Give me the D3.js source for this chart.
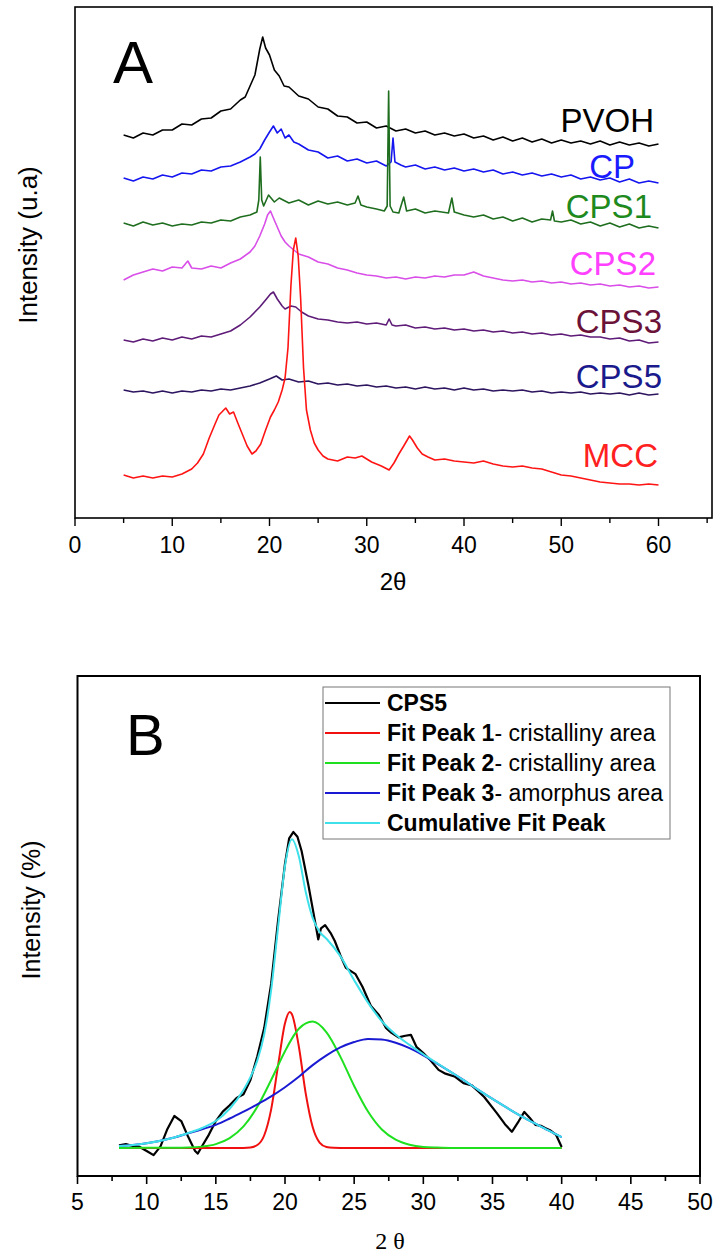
<html>
<script src="https://d3js.org/d3.v7.min.js"></script>
<body style="margin:0;background:#fff">
<svg id="chart"></svg>
<script>
// ---- panel A : XRD patterns, [2theta, intensity a.u.] ----
const pvoh = [[5,383],[6,380],[7,385],[8,383],[9,388],[10,388],[11,394],[12,393],[13,399],[14,400],[15,407],[16,409],[17,418],[17.5,421],[18,432],[18.5,443],[19,469],[19.3,481],[19.6,470],[20,463],[20.5,448],[21,442],[21.5,432],[22,431],[23,422],[24,419],[25,411],[26,409],[27,402],[28,401],[29,395],[30,396],[31,390],[32,392],[33,387],[34,389],[35,385],[36,387],[37,383],[38,385],[39,382],[40,384],[41,380],[42,382],[43,378],[44,381],[45,377],[46,380],[47,376],[48,379],[49,375],[50,378],[51,375],[52,377],[53,374],[54,377],[55,373],[56,376],[57,373],[58,375],[59,372],[60,374]];
const cp = [[5,340],[6,337],[7,341],[8,339],[9,343],[10,341],[11,345],[12,344],[13,348],[14,347],[15,351],[16,352],[17,356],[18,361],[18.5,364],[19,369],[19.5,378],[20,386],[20.4,392],[20.8,385],[21.2,389],[21.6,380],[22,383],[22.5,376],[23,374],[24,368],[25,366],[26,360],[27,362],[28,357],[29,359],[30,355],[31,357],[32,352],[32.5,356],[32.7,380],[32.9,356],[33.5,353],[34,351],[35,353],[36,349],[37,351],[38,348],[39,350],[40,347],[41,349],[42,346],[43,348],[44,344],[45,346],[46,343],[47,345],[48,342],[49,344],[50,341],[51,343],[52,339],[53,341],[54,338],[55,340],[56,336],[57,339],[58,335],[59,337],[60,335]];
const cps1 = [[5,295],[6,292],[7,296],[8,293],[9,295],[10,292],[11,294],[12,293],[13,296],[14,295],[15,298],[16,297],[17,301],[18,303],[18.7,306],[18.9,318],[19.05,361],[19.2,318],[19.4,312],[19.9,323],[20.5,316],[21,320],[22,315],[23,318],[24,313],[25,317],[26,314],[27,316],[28,313],[28.8,315],[29.1,322],[29.4,313],[30,311],[31,309],[31.8,307],[32.1,312],[32.25,427],[32.4,312],[32.7,306],[33.3,305],[33.8,321],[34.1,307],[35,309],[36,305],[37,307],[38.4,305],[38.75,320],[39,306],[40,303],[41,301],[42,303],[43,299],[44,301],[45,297],[46,300],[47,296],[48,299],[48.9,298],[49.1,307],[49.3,297],[50,296],[51,298],[52,294],[53,296],[54,292],[55,295],[56,291],[57,294],[58,290],[59,292],[60,290]];
const cps2 = [[5,238],[6,243],[7,246],[8,249],[9,247],[10,251],[11,250],[11.6,257],[12,250],[13,249],[14,252],[15,250],[16,255],[17,259],[18,266],[18.5,272],[19,282],[19.5,294],[19.8,303],[20.1,307],[20.4,300],[20.8,291],[21.2,282],[21.6,276],[22,272],[23,264],[24,261],[25,256],[26,254],[27,250],[28,248],[29,245],[30,243],[31,242],[32,240],[33,241],[34,239],[35,241],[36,240],[37,242],[38,241],[39,243],[40,243],[41,246],[42,242],[43,240],[44,238],[45,237],[46,238],[47,236],[48,237],[49,235],[50,236],[51,234],[52,235],[53,233],[54,234],[55,232],[56,233],[57,231],[58,232],[59,230],[60,231]];
const cps3 = [[5,178],[6,176],[7,179],[8,177],[9,180],[10,178],[11,181],[12,179],[13,182],[14,181],[15,184],[16,187],[17,193],[18,201],[19,211],[19.6,218],[20.1,224],[20.4,226],[20.8,219],[21.3,212],[21.6,209],[22.2,212],[22.7,211],[23.3,206],[24,202],[25,199],[26,198],[27,196],[28,195],[29,196],[30,194],[31,195],[32,193],[32.3,199],[32.6,193],[33,192],[34,193],[35,190],[36,191],[37,189],[38,190],[39,188],[40,189],[41,187],[42,188],[43,186],[44,187],[45,185],[46,186],[47,184],[48,185],[49,183],[50,184],[51,182],[52,183],[53,181],[54,181],[55,179],[56,180],[57,177],[58,178],[59,175],[60,176]];
const cps5 = [[5,128],[6,126],[7,127],[8,125],[9,127],[10,125],[11,127],[12,126],[13,128],[14,127],[15,129],[16,128],[17,130],[18,132],[19,135],[20,139],[20.7,142],[21.3,138],[22,139],[23,136],[24,137],[25,134],[26,135],[27,133],[28,134],[29,132],[30,133],[31,131],[32,132],[33,130],[34,131],[35,129],[36,131],[37,129],[38,130],[39,128],[40,130],[41,128],[42,129],[43,127],[44,128],[45,127],[46,128],[47,126],[48,127],[49,125],[50,126],[51,125],[52,126],[53,124],[54,125],[55,124],[56,125],[57,123],[58,125],[59,123],[60,124]];
const mcc = [[5,43],[6,40],[7,42],[8,40],[9,42],[10,41],[11,44],[12,49],[12.6,55],[13.2,64],[13.8,80],[14.4,94],[14.8,103],[15.2,107],[15.5,110],[15.9,104],[16.3,106],[16.7,96],[17.2,84],[17.7,72],[18.2,64],[18.6,67],[19.1,74],[19.6,88],[20.1,101],[20.5,108],[20.9,116],[21.3,128],[21.6,140],[21.9,170],[22.2,232],[22.45,268],[22.7,280],[22.95,262],[23.2,220],[23.5,150],[23.8,108],[24.2,88],[24.6,75],[25,68],[25.5,62],[26,59],[27,57],[28,61],[28.8,60],[29.5,62],[30.5,56],[31.5,52],[32.3,48],[32.8,55],[33.3,64],[33.8,72],[34.4,82],[34.7,78],[35.2,70],[35.7,64],[36.3,61],[37,58],[38,59],[39,57],[40,56],[41,55],[42,57],[43,54],[44,52],[45,51],[46,52],[47,50],[48,49],[49,46],[50,43],[51,42],[52,40],[53,38],[54,36],[55,35],[56,34],[57,34],[58,33],[59,34],[60,33]];

const namesA = ["PVOH", "CP", "CPS1", "CPS2", "CPS3", "CPS5", "MCC"];
const ticksA = [0, 10, 20, 30, 40, 50, 60];

// ---- panel B : CPS5 deconvolution, [2theta, intensity %] ----
const cps5Raw = [[8,0.8],[8.5,1.2],[9,0.6],[9.5,0.3],[10,-1],[10.5,-2.3],[11,0.5],[11.5,6],[12,10.1],[12.5,8.5],[13,3.5],[13.5,-1],[13.7,-1.8],[14,0.5],[14.5,4.2],[15,8.5],[15.5,11.5],[16,13.5],[16.5,15.8],[17,17],[17.5,21.5],[18,29],[18.5,38],[19,52],[19.5,72],[20,90],[20.3,98],[20.6,100],[20.9,98.5],[21.2,94],[21.7,83],[22.2,71],[22.4,66],[22.6,69.5],[22.9,70.5],[23.3,68],[23.6,65.5],[24,61],[24.4,57],[25.1,55],[25.6,51],[26.2,45],[26.8,42],[27.3,38],[27.7,36.4],[28.2,35],[28.7,35.5],[29.1,35.8],[29.5,32],[30,30],[30.5,27.8],[31.1,24.7],[31.6,23.5],[32.3,22.5],[32.9,20.5],[33.5,19.8],[34,17.8],[34.4,16.1],[35.3,11.1],[35.9,7.5],[36.4,5.1],[36.9,8.5],[37.3,11.4],[37.7,9.5],[38.1,7.3],[38.5,7],[38.8,6.3],[39.2,5.5],[39.6,4.1],[40,0.3]];
const fitPeak1 = [[8,0],[17,0],[17.5,0.15],[18,0.9],[18.5,4],[19,12.2],[19.5,26.1],[20,39.5],[20.35,43],[20.5,42.3],[21,32.1],[21.5,17.2],[22,6.6],[22.5,1.7],[23,0.3],[23.5,0.05],[24,0],[40,0]];
const fitPeak2 = [[8,0],[12,0.03],[13,0.1],[14,0.4],[15,1.2],[16,3.1],[17,6.8],[18,13],[19,21.5],[20,30.6],[20.5,34.6],[21,37.7],[22,40],[23,36.6],[24,28.9],[25,19.6],[26,11.5],[27,5.8],[28,2.6],[29,1],[30,0.3],[31,0.1],[32,0],[40,0]];
const fitPeak3 = [[8,0.6],[10,1.5],[12,3.3],[13,4.6],[14,5.9],[15,7.3],[16,9.3],[17,11.5],[18,13.8],[19,16.3],[20,19.2],[21,22.5],[22,26.2],[23,29.3],[24,31.8],[25,33.5],[26,34.5],[27,34.3],[28,33.3],[29,31.6],[30,29.3],[31,26.7],[32,24],[33,21.2],[34,18.3],[35,15.5],[36,12.8],[37,10.2],[38,7.9],[39,5.6],[40,3.4]];
const fitCumulative = [[8,0.6],[10,1.5],[12,3.3],[13,4.7],[14,6.3],[15,8.5],[16,12.4],[17,18.3],[17.5,22.4],[18,27.7],[18.5,36],[19,50],[19.5,69.9],[20,89.3],[20.5,97.7],[21,92.3],[21.5,81],[22,72.8],[22.5,68.4],[23,66.2],[24,60.7],[25,53.1],[26,46],[27,40.1],[28,35.9],[29,32.6],[30,29.6],[31,26.8],[32,24],[33,21.2],[34,18.3],[35,15.5],[36,12.8],[37,10.2],[38,7.9],[39,5.6],[40,3.4]];

const ticksB = [5, 10, 15, 20, 25, 30, 35, 40, 45, 50];
const legendBold = ["CPS5", "Fit Peak 1", "Fit Peak 2", "Fit Peak 3", "Cumulative Fit Peak"];
const legendRest = ["", "- cristalliny area", "- cristalliny area", "- amorphus area", ""];

const FONT = "'Liberation Sans', Arial, sans-serif";
const W = 713, H = 1256;
const svg = d3.select("#chart").attr("width", W).attr("height", H)
    .style("font-family", FONT);
svg.append("rect").attr("width", W).attr("height", H).attr("fill", "#fff");

// ================= panel A =================
const xA = d3.scaleLinear().domain([0, 65.5]).range([75, 712]);
const yA = d3.scaleLinear().domain([0, 511]).range([518, 7]);
const lineA = d3.line().x(d => xA(d[0])).y(d => yA(d[1]));

const seriesA = [pvoh, cp, cps1, cps2, cps3, cps5, mcc];
const lineColA = ["#000000", "#1515f0", "#1f6e1f", "#d94ee8", "#5e1b78", "#2e1560", "#ff1414"];
const labColA = ["#000000", "#1a1aff", "#1e8a1e", "#ff40ff", "#6b1238", "#1a1a8c", "#ff2020"];
// label placement (layout)
const labRight = [654, 635, 652, 656, 662, 662, 658];
const labBase = [132, 178, 218, 275, 333, 388, 467];

seriesA.forEach((s, i) => {
    svg.append("path").datum(s)
        .attr("d", lineA)
        .attr("fill", "none")
        .attr("stroke", lineColA[i])
        .attr("stroke-width", 1.6)
        .attr("stroke-linejoin", "round");
    svg.append("text")
        .attr("x", labRight[i]).attr("y", labBase[i])
        .attr("text-anchor", "end")
        .attr("font-size", 33)
        .attr("fill", labColA[i])
        .text(namesA[i]);
});

svg.append("rect").attr("x", 75).attr("y", 7).attr("width", 637).attr("height", 511)
    .attr("fill", "none").attr("stroke", "#000").attr("stroke-width", 1.6);

// ticks
d3.range(0, 66, 5).forEach(v => {
    const major = v % 10 === 0;
    svg.append("line")
        .attr("x1", xA(v)).attr("x2", xA(v))
        .attr("y1", 518).attr("y2", 518 + (major ? 8 : 5))
        .attr("stroke", "#000").attr("stroke-width", 1.4);
});
ticksA.forEach(v => {
    svg.append("text").attr("x", xA(v)).attr("y", 553)
        .attr("text-anchor", "middle").attr("font-size", 23).text(v);
});
svg.append("text").attr("x", 393).attr("y", 590)
    .attr("text-anchor", "middle").attr("font-size", 24).text("2θ");
svg.append("text")
    .attr("transform", "translate(37,245) rotate(-90)")
    .attr("text-anchor", "middle").attr("font-size", 26)
    .text("Intensity (u.a)");
svg.append("text").attr("x", 113).attr("y", 83).attr("font-size", 60).text("A");

// ================= panel B =================
const xB = d3.scaleLinear().domain([5, 50]).range([77.5, 700]);
const yB = d3.scaleLinear().domain([-8.9, 149.4]).range([1176, 676]);
const rawLine = d3.line().x(d => xB(d[0])).y(d => yB(d[1]));
const fitLine = d3.line().x(d => xB(d[0])).y(d => yB(d[1])).curve(d3.curveMonotoneX);

const seriesB = [cps5Raw, fitPeak1, fitPeak2, fitPeak3, fitCumulative];
const colB = ["#000000", "#f01010", "#1fe01f", "#1a1ad2", "#3ee0ea"];
seriesB.forEach((s, i) => {
    svg.append("path").datum(s)
        .attr("d", i === 0 ? rawLine : fitLine)
        .attr("fill", "none")
        .attr("stroke", colB[i])
        .attr("stroke-width", i === 0 ? 2.2 : 2)
        .attr("stroke-linejoin", "round");
});

svg.append("rect").attr("x", 77.5).attr("y", 676).attr("width", 622.5).attr("height", 500)
    .attr("fill", "none").attr("stroke", "#000").attr("stroke-width", 2);

d3.range(5, 50.1, 2.5).forEach(v => {
    const major = v % 5 === 0;
    svg.append("line")
        .attr("x1", xB(v)).attr("x2", xB(v))
        .attr("y1", 1176).attr("y2", 1176 + (major ? 8 : 5))
        .attr("stroke", "#000").attr("stroke-width", 1.6);
});
ticksB.forEach(v => {
    svg.append("text").attr("x", xB(v)).attr("y", 1210)
        .attr("text-anchor", "middle").attr("font-size", 23).text(v);
});
svg.append("text").attr("x", 390).attr("y", 1249)
    .attr("text-anchor", "middle").attr("font-size", 24)
    .attr("font-family", "'Liberation Serif', 'Times New Roman', serif")
    .text("2 θ");
svg.append("text")
    .attr("transform", "translate(40,910) rotate(-90)")
    .attr("text-anchor", "middle").attr("font-size", 25)
    .text("Intensity (%)");
svg.append("text").attr("x", 126).attr("y", 755).attr("font-size", 58).text("B");

// legend
const leg = svg.append("g");
leg.append("rect").attr("x", 323).attr("y", 687).attr("width", 347).attr("height", 152)
    .attr("fill", "#fff").attr("stroke", "#777").attr("stroke-width", 1);
legendBold.forEach((t, i) => {
    const cy = 703 + i * 30;
    leg.append("line").attr("x1", 325).attr("x2", 380).attr("y1", cy).attr("y2", cy)
        .attr("stroke", colB[i]).attr("stroke-width", 2.2);
    const tx = leg.append("text").attr("x", 387).attr("y", cy + 8).attr("font-size", 23);
    tx.append("tspan").attr("font-weight", "bold").text(t);
    tx.append("tspan").text(legendRest[i]);
});
</script>
</body>
</html>
